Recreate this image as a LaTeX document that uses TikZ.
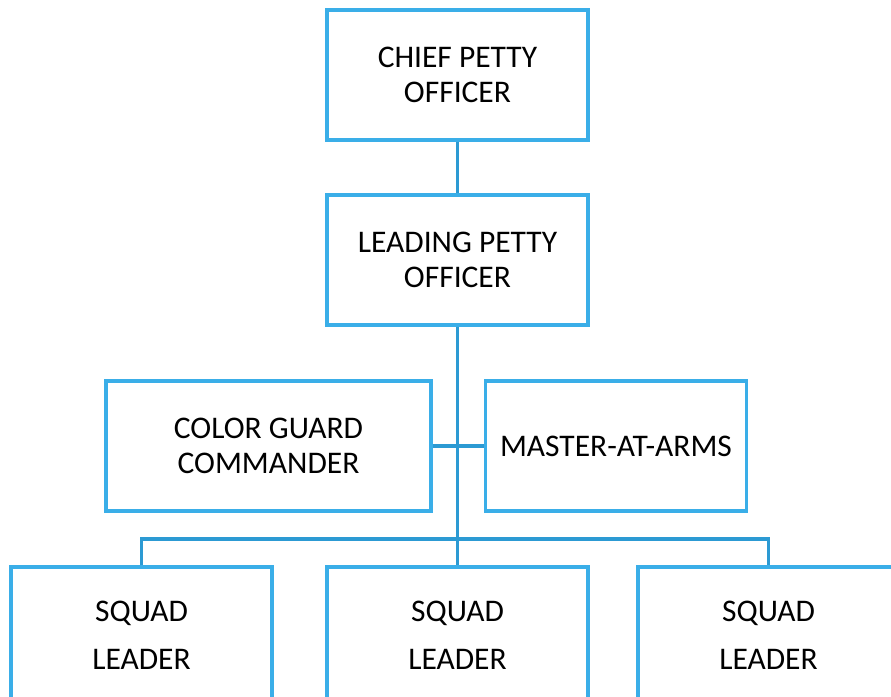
\documentclass[tikz,border=0pt]{standalone}
\usepackage{fontspec}
\setmainfont{Carlito}
\definecolor{boxblue}{HTML}{3AAEE8}
\definecolor{linkblue}{HTML}{2C9AD3}
\tikzset{
	rankbox/.style={draw=boxblue, line width=3.2pt, fill=white, minimum width=261pt, minimum height=130pt,
		inner sep=0pt, align=center, font=\fontsize{31.5}{35}\selectfont},
	link/.style={draw=linkblue, line width=3.2pt}
}
\begin{document}
\begin{tikzpicture}[x=1pt, y=-1pt]
		\clip (0,0) rectangle (891,696);
		\fill[white] (0,0) rectangle (891,696);
		%
		\node[rankbox] (chief) at (457.5,75) {CHIEF PETTY\\OFFICER};
		\node[rankbox] (lpo) at (457.5,260) {LEADING PETTY\\OFFICER};
		\node[rankbox, minimum width=325pt] (cgc) at (268.5,446) {COLOR GUARD\\COMMANDER};
		\node[rankbox] (maa) at (616,446) {MASTER-AT-ARMS};
		\node[rankbox, minimum height=136pt] (sqa) at (141.5,635) {SQUAD\\[13pt]LEADER};
		\node[rankbox, minimum height=136pt] (sqb) at (457.5,635) {SQUAD\\[13pt]LEADER};
		\node[rankbox, minimum height=136pt] (sqc) at (768.5,635) {SQUAD\\[13pt]LEADER};
		%
		\coordinate (bus) at (457.5,539);
		\draw[link] (chief) -- (lpo);
		\draw[link] (lpo) -- (sqb);
		\draw[link] (cgc) -- (maa);
		\draw[link] (sqa) |- (bus) -| (sqc);
	\end{tikzpicture}
\end{document}
